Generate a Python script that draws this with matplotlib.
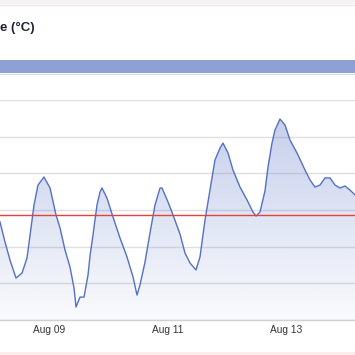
import numpy as np
import pandas as pd
import matplotlib
matplotlib.use("Agg")
import matplotlib.pyplot as plt
import matplotlib.dates as mdates
from matplotlib.patches import Rectangle
from matplotlib.lines import Line2D


# ============================================================================
# Data (hours relative to Aug 09 00:00)
# ============================================================================
start = pd.Timestamp("2024-08-09 00:00")

hours = [-19.85, -17.82, -15.80, -13.37, -10.94, -8.91, -7.29, -6.08, -4.46, -2.03,
         0.41, 2.84, 4.46, 6.48, 8.51, 10.13, 10.94, 12.56, 14.18, 15.80,
         16.61, 17.82, 19.44, 20.66, 21.47, 23.49, 25.92, 28.76, 31.59, 34.03,
         35.65, 36.86, 38.89, 40.91, 42.94, 44.96, 45.77, 48.20, 50.23, 53.06,
         55.09, 57.11, 59.54, 61.16, 63.19, 65.21, 67.24, 69.27, 70.48, 72.51,
         74.53, 77.37, 80.20, 82.63, 83.85, 85.47, 87.49, 88.71, 90.33, 91.54,
         93.57, 95.59, 97.62, 100.45, 103.70, 105.72, 107.75, 109.77, 111.80, 113.82,
         115.85, 117.87, 119.90, 121.92, 123.95]

temps = [15.35, 14.25, 13.27, 12.29, 12.56, 13.38, 15.02, 16.27, 17.36, 17.80,
         17.20, 15.73, 15.02, 13.82, 12.89, 11.75, 10.71, 11.25, 11.25, 12.45,
         13.49, 14.64, 16.27, 16.98, 17.20, 16.65, 15.62, 14.47, 13.44, 12.35,
         11.36, 11.91, 13.16, 14.75, 16.27, 17.20, 17.20, 16.44, 15.73, 14.69,
         13.65, 13.11, 12.73, 13.44, 15.45, 17.09, 18.73, 19.38, 19.65, 19.11,
         18.18, 17.25, 16.55, 15.89, 15.67, 15.89, 17.04, 18.35, 19.65, 20.36,
         20.96, 20.64, 19.82, 19.11, 18.18, 17.64, 17.25, 17.36, 17.75, 17.75,
         17.36, 17.20, 17.31, 17.09, 16.82]

threshold = 15.73
tick_days = [9, 11, 13]
title = "e (°C)"   # visible tail of the cropped title

times = start + pd.to_timedelta(hours, unit="h")

# ============================================================================
# Plot
# ============================================================================
W, H = 355, 355
fig = plt.figure(figsize=(W / 100, H / 100), dpi=100)
fig.patch.set_facecolor("white")

# plot area: px 0..355 horizontally, px 100..320 vertically
ax = fig.add_axes([0, (H - 320) / H, 1, 220 / H])
ax.set_facecolor("none")

x_num = mdates.date2num(times)
ax.set_xlim(x_num[0], x_num[-1])
ax.set_ylim(10, 22)

# gradient area under the line
poly = ax.fill_between(x_num, temps, 10, color="none", lw=0)
grad = np.zeros((256, 1, 4))
grad[..., 0] = 84 / 255
grad[..., 1] = 112 / 255
grad[..., 2] = 198 / 255
grad[:, 0, 3] = np.linspace(0.03, 0.34, 256)
img = ax.imshow(grad, aspect="auto", origin="lower",
                extent=[x_num[0], x_num[-1], 10, 21.2], zorder=1)
img.set_clip_path(poly.get_paths()[0], transform=ax.transData)

ax.plot(x_num, temps, color="#5470c6", lw=1.0, zorder=3)
ax.axhline(threshold, color="#e5413b", lw=1.0, zorder=4)

# grid and axes styling
ax.set_yticks(np.arange(10, 23, 2))
ax.yaxis.grid(True, color="#e0e0e0", lw=1.0, zorder=0)
ax.set_axisbelow(True)
for side in ["top", "left", "right"]:
    ax.spines[side].set_visible(False)
ax.spines["bottom"].set_color("#d0d0d0")
ax.spines["bottom"].set_linewidth(1.0)
ax.tick_params(axis="y", left=False, labelleft=False)

ax.xaxis.set_major_locator(mdates.DayLocator(bymonthday=tick_days))
ax.xaxis.set_major_formatter(mdates.DateFormatter("%b %d"))
ax.tick_params(axis="x", length=0, pad=3.5, labelsize=7.3, labelcolor="#333333")
for lbl in ax.get_xticklabels():
    lbl.set_fontfamily("Liberation Sans")

# header: title and the blue bar
fig.text(0.5 / W, 1 - 28 / H, title, ha="left", va="center",
         fontsize=9.5, fontweight="bold", color="#1f2333", family="Liberation Sans")
fig.patches.append(Rectangle((0, 1 - 73 / H), 1, 13 / H, transform=fig.transFigure,
                             facecolor="#8da1d5", edgecolor="none"))
fig.lines.append(Line2D([0, 1], [1 - 73.5 / H] * 2, transform=fig.transFigure,
                        color="#d3dbf0", lw=0.8))

# card borders top / bottom
fig.patches.append(Rectangle((0, 1 - 4 / H), 1, 4 / H, transform=fig.transFigure,
                             facecolor="#f4f4f4", edgecolor="none"))
fig.lines.append(Line2D([0, 1], [1 - 5 / H] * 2, transform=fig.transFigure,
                        color="#fbe1e1", lw=1.0))
fig.patches.append(Rectangle((0, 0), 1, 3 / H, transform=fig.transFigure,
                             facecolor="#fcecec", edgecolor="none"))

fig.savefig("out.png", dpi=100)
